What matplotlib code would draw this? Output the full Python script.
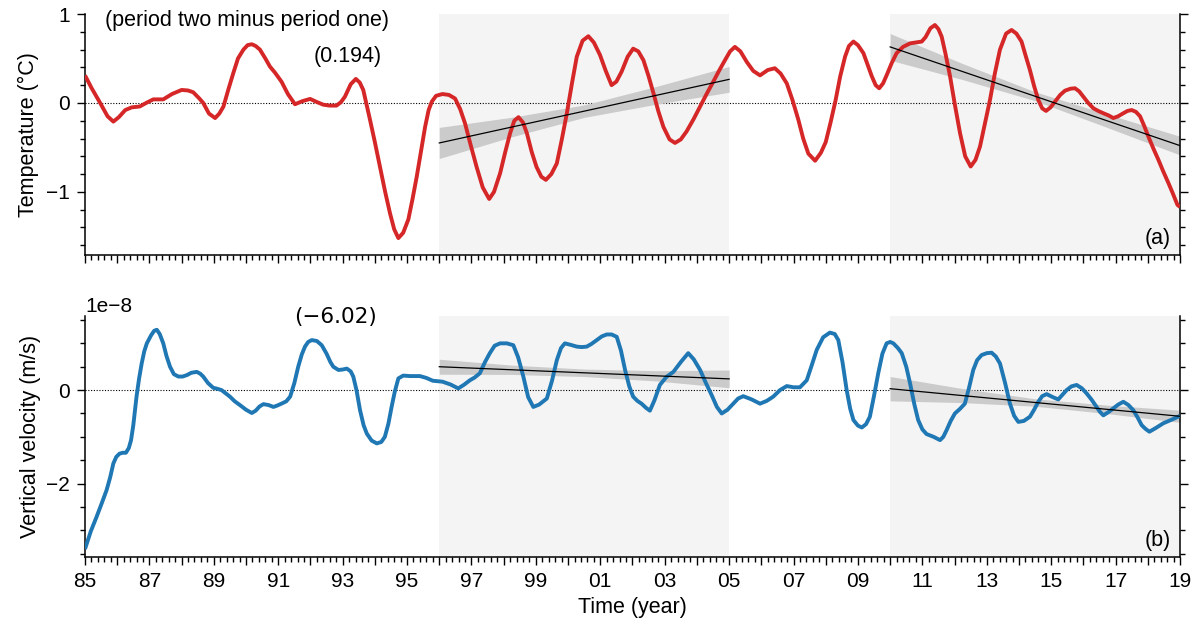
import matplotlib
matplotlib.use("Agg")
import matplotlib.pyplot as plt
from matplotlib.ticker import MultipleLocator, FuncFormatter, FixedLocator
import numpy as np

# ---------------- data ----------------
years_T = [1985.0, 1985.2, 1985.47, 1985.7, 1985.88, 1986.05, 1986.25, 1986.45, 1986.7, 1986.9,
           1987.12, 1987.43, 1987.7, 1988.0, 1988.2, 1988.36, 1988.55, 1988.67, 1988.85, 1989.04,
           1989.17, 1989.3, 1989.45, 1989.6, 1989.75, 1989.92, 1990.05, 1990.18, 1990.3, 1990.43,
           1990.6, 1990.74, 1990.9, 1991.1, 1991.3, 1991.52, 1991.75, 1991.99, 1992.2, 1992.4,
           1992.6, 1992.81, 1992.95, 1993.07, 1993.25, 1993.41, 1993.53, 1993.64, 1993.85, 1994.0,
           1994.16, 1994.32, 1994.47, 1994.6, 1994.73, 1994.88, 1995.04, 1995.17, 1995.3, 1995.43,
           1995.56, 1995.67, 1995.77, 1995.9, 1996.1, 1996.3, 1996.49, 1996.65, 1996.8, 1996.98,
           1997.16, 1997.35, 1997.55, 1997.7, 1997.89, 1998.05, 1998.2, 1998.33, 1998.46, 1998.6,
           1998.72, 1998.87, 1999.02, 1999.17, 1999.31, 1999.48, 1999.65, 1999.8, 1999.96, 2000.12,
           2000.27, 2000.45, 2000.63, 2000.8, 2000.99, 2001.17, 2001.35, 2001.5, 2001.66, 2001.85,
           2002.02, 2002.18, 2002.34, 2002.5, 2002.65, 2002.8, 2002.96, 2003.15, 2003.32, 2003.5,
           2003.68, 2003.9, 2004.1, 2004.3, 2004.51, 2004.7, 2004.87, 2005.03, 2005.18, 2005.35,
           2005.55, 2005.75, 2005.96, 2006.2, 2006.42, 2006.6, 2006.79, 2006.97, 2007.15, 2007.3,
           2007.46, 2007.67, 2007.85, 2008.0, 2008.15, 2008.3, 2008.45, 2008.6, 2008.72, 2008.86,
           2009.0, 2009.17, 2009.3, 2009.43, 2009.55, 2009.66, 2009.78, 2009.89, 2010.05, 2010.2,
           2010.4, 2010.62, 2010.8, 2010.98, 2011.1, 2011.25, 2011.39, 2011.5, 2011.6, 2011.72,
           2011.86, 2012.0, 2012.17, 2012.33, 2012.5, 2012.65, 2012.79, 2012.95, 2013.1, 2013.25,
           2013.41, 2013.6, 2013.77, 2013.92, 2014.08, 2014.2, 2014.34, 2014.47, 2014.6, 2014.72,
           2014.84, 2014.98, 2015.12, 2015.28, 2015.43, 2015.6, 2015.74, 2015.87, 2016.0, 2016.15,
           2016.31, 2016.46, 2016.62, 2016.78, 2016.93, 2017.08, 2017.24, 2017.37, 2017.5, 2017.63,
           2017.76, 2017.89, 2018.02, 2018.17, 2018.33, 2018.48, 2018.64, 2018.78, 2018.92, 2019.0]
temp = [0.31, 0.17, 0.0, -0.15, -0.21, -0.16, -0.08, -0.05, -0.04, 0.0,
        0.04, 0.04, 0.10, 0.146, 0.14, 0.12, 0.05, 0.0, -0.12, -0.17,
        -0.12, -0.04, 0.15, 0.33, 0.50, 0.60, 0.65, 0.66, 0.64, 0.60,
        0.50, 0.41, 0.34, 0.24, 0.10, -0.015, 0.02, 0.045, 0.01, -0.02,
        -0.03, -0.03, 0.01, 0.07, 0.21, 0.27, 0.23, 0.146, -0.19, -0.44,
        -0.72, -1.0, -1.24, -1.42, -1.52, -1.46, -1.31, -1.08, -0.83, -0.55,
        -0.27, -0.08, 0.015, 0.08, 0.10, 0.09, 0.05, -0.07, -0.23, -0.48,
        -0.72, -0.95, -1.08, -1.0, -0.79, -0.55, -0.34, -0.20, -0.16, -0.22,
        -0.34, -0.55, -0.72, -0.83, -0.865, -0.80, -0.68, -0.42, -0.12, 0.22,
        0.52, 0.70, 0.75, 0.68, 0.54, 0.36, 0.20, 0.24, 0.35, 0.52,
        0.61, 0.58, 0.48, 0.30, 0.11, -0.09, -0.27, -0.41, -0.45, -0.41,
        -0.32, -0.18, -0.04, 0.10, 0.24, 0.37, 0.48, 0.58, 0.63, 0.58,
        0.46, 0.36, 0.31, 0.37, 0.39, 0.33, 0.22, 0.03, -0.19, -0.40,
        -0.57, -0.65, -0.56, -0.44, -0.22, 0.02, 0.30, 0.52, 0.64, 0.69,
        0.65, 0.56, 0.43, 0.30, 0.20, 0.165, 0.22, 0.31, 0.45, 0.56,
        0.63, 0.67, 0.68, 0.69, 0.74, 0.84, 0.876, 0.83, 0.745, 0.55,
        0.30, 0.0, -0.34, -0.60, -0.715, -0.64, -0.49, -0.22, 0.034, 0.33,
        0.60, 0.78, 0.82, 0.78, 0.69, 0.54, 0.37, 0.19, 0.034, -0.06,
        -0.09, -0.05, 0.015, 0.09, 0.138, 0.16, 0.165, 0.13, 0.07, 0.0,
        -0.06, -0.09, -0.116, -0.14, -0.17, -0.15, -0.116, -0.09, -0.08, -0.10,
        -0.15, -0.26, -0.38, -0.51, -0.64, -0.77, -0.90, -1.02, -1.146, -1.17]

years_W = [1985.0, 1985.18, 1985.36, 1985.52, 1985.67, 1985.78, 1985.88, 1985.97, 1986.07, 1986.17,
           1986.27, 1986.36, 1986.43, 1986.5, 1986.6, 1986.68, 1986.76, 1986.84, 1986.92, 1987.05,
           1987.15, 1987.23, 1987.32, 1987.43, 1987.53, 1987.64, 1987.76, 1987.9, 1988.03, 1988.16,
           1988.3, 1988.47, 1988.58, 1988.67, 1988.82, 1988.98, 1989.1, 1989.24, 1989.37, 1989.5,
           1989.65, 1989.81, 1990.0, 1990.18, 1990.3, 1990.42, 1990.54, 1990.7, 1990.85, 1990.97,
           1991.1, 1991.25, 1991.37, 1991.5, 1991.62, 1991.73, 1991.83, 1991.93, 1992.04, 1992.2,
           1992.35, 1992.5, 1992.62, 1992.71, 1992.87, 1993.0, 1993.13, 1993.25, 1993.33, 1993.43,
           1993.54, 1993.65, 1993.75, 1993.9, 1994.06, 1994.2, 1994.31, 1994.42, 1994.52, 1994.62,
           1994.73, 1994.88, 1995.1, 1995.4, 1995.6, 1995.8, 1996.1, 1996.35, 1996.59, 1996.78,
           1996.95, 1997.1, 1997.26, 1997.42, 1997.57, 1997.72, 1997.89, 1998.1, 1998.3, 1998.45,
           1998.61, 1998.76, 1998.92, 1999.1, 1999.34, 1999.5, 1999.65, 1999.78, 1999.9, 2000.07,
           2000.27, 2000.42, 2000.58, 2000.73, 2000.89, 2001.05, 2001.2, 2001.35, 2001.51, 2001.64,
           2001.77, 2001.9, 2002.02, 2002.15, 2002.28, 2002.42, 2002.54, 2002.68, 2002.85, 2003.05,
           2003.27, 2003.5, 2003.73, 2003.9, 2004.1, 2004.28, 2004.46, 2004.62, 2004.77, 2004.95,
           2005.13, 2005.28, 2005.44, 2005.7, 2005.96, 2006.17, 2006.37, 2006.58, 2006.79, 2007.0,
           2007.2, 2007.41, 2007.56, 2007.72, 2007.92, 2008.13, 2008.28, 2008.39, 2008.52, 2008.65,
           2008.76, 2008.86, 2009.0, 2009.12, 2009.25, 2009.37, 2009.5, 2009.63, 2009.76, 2009.89,
           2010.0, 2010.1, 2010.24, 2010.36, 2010.5, 2010.62, 2010.75, 2010.87, 2011.0, 2011.13,
           2011.35, 2011.55, 2011.65, 2011.75, 2011.88, 2012.01, 2012.17, 2012.32, 2012.45, 2012.58,
           2012.7, 2012.84, 2013.0, 2013.15, 2013.28, 2013.41, 2013.57, 2013.72, 2013.85, 2013.98,
           2014.15, 2014.34, 2014.47, 2014.6, 2014.72, 2014.86, 2015.05, 2015.22, 2015.35, 2015.48,
           2015.63, 2015.79, 2015.95, 2016.1, 2016.25, 2016.41, 2016.52, 2016.62, 2016.78, 2016.93,
           2017.08, 2017.24, 2017.4, 2017.55, 2017.68, 2017.81, 2017.93, 2018.05, 2018.25, 2018.48,
           2018.75, 2019.0]
wvel = [-3.40, -3.02, -2.71, -2.42, -2.14, -1.87, -1.57, -1.43, -1.36, -1.34,
        -1.34, -1.24, -1.07, -0.75, -0.14, 0.25, 0.57, 0.83, 1.0, 1.17,
        1.27, 1.29, 1.2, 1.0, 0.73, 0.5, 0.34, 0.29, 0.29, 0.32,
        0.37, 0.39, 0.35, 0.29, 0.15, 0.05, 0.03, 0.0, -0.07, -0.14,
        -0.24, -0.32, -0.42, -0.49, -0.44, -0.35, -0.3, -0.32, -0.36, -0.33,
        -0.29, -0.24, -0.14, 0.15, 0.5, 0.76, 0.93, 1.03, 1.07, 1.05,
        0.96, 0.78, 0.6, 0.5, 0.43, 0.44, 0.46, 0.4, 0.29, 0.0,
        -0.43, -0.75, -0.93, -1.08, -1.14, -1.11, -1.0, -0.72, -0.36, -0.03,
        0.25, 0.31, 0.30, 0.30, 0.26, 0.2, 0.18, 0.12, 0.036, 0.12,
        0.21, 0.27, 0.36, 0.6, 0.79, 0.95, 1.0, 1.0, 0.96, 0.7,
        0.29, -0.15, -0.36, -0.31, -0.18, 0.2, 0.64, 0.9, 1.0, 0.97,
        0.93, 0.92, 0.93, 0.99, 1.07, 1.15, 1.19, 1.19, 1.14, 0.85,
        0.43, 0.08, -0.14, -0.23, -0.29, -0.38, -0.44, -0.22, 0.11, 0.28,
        0.39, 0.6, 0.79, 0.66, 0.43, 0.15, -0.11, -0.36, -0.5, -0.42,
        -0.29, -0.18, -0.13, -0.2, -0.29, -0.23, -0.14, 0.0, 0.086, 0.06,
        0.06, 0.21, 0.52, 0.86, 1.13, 1.23, 1.2, 1.07, 0.6, 0.0,
        -0.4, -0.64, -0.76, -0.8, -0.73, -0.57, -0.12, 0.36, 0.78, 1.0,
        1.03, 1.0, 0.9, 0.79, 0.5, 0.14, -0.3, -0.64, -0.84, -0.94,
        -1.0, -1.07, -1.0, -0.86, -0.66, -0.5, -0.4, -0.29, 0.05, 0.43,
        0.64, 0.75, 0.79, 0.8, 0.72, 0.57, 0.15, -0.29, -0.55, -0.68,
        -0.66, -0.57, -0.42, -0.25, -0.13, -0.086, -0.15, -0.2, -0.1, 0.0,
        0.08, 0.11, 0.04, -0.07, -0.2, -0.36, -0.47, -0.54, -0.47, -0.39,
        -0.31, -0.25, -0.32, -0.43, -0.58, -0.75, -0.83, -0.89, -0.81, -0.71,
        -0.63, -0.55]
W_SCALE = 1e-8

# periods (shaded)
period1 = (1996, 2005)
period2 = (2010, 2019)

# trend lines (value at start/end of period) and confidence half widths
trend_x1 = [1996, 1998.25, 2000.5, 2002.75, 2005]
trend_x2 = [2010, 2012.25, 2014.5, 2016.75, 2019]
T_trend1 = [-0.45, 0.265]
T_hw1 = [0.175, 0.11, 0.07, 0.10, 0.145]
T_trend2 = [0.63, -0.48]
T_hw2 = [0.15, 0.09, 0.05, 0.075, 0.105]
W_trend1 = [0.50, 0.24]
W_hw1 = [0.16, 0.10, 0.08, 0.11, 0.19]
W_trend2 = [0.03, -0.56]
W_hw2 = [0.26, 0.15, 0.08, 0.09, 0.13]

diff_T = "(0.194)"
diff_W = "(\u22126.02)"

# ---------------- style ----------------
plt.rcParams['font.family'] = ['Liberation Sans', 'DejaVu Sans']
plt.rcParams['axes.unicode_minus'] = True

RED = '#d62728'
BLUE = '#1f77b4'
SHADE = '#f4f4f4'
BAND = '#cbcbcb'

fig = plt.figure(figsize=(12, 6.24), dpi=100)
L, R = 85 / 1200, 1180 / 1200
ax1 = fig.add_axes([L, 1 - 255 / 624, R - L, (255 - 14) / 624])
ax2 = fig.add_axes([L, 1 - 557 / 624, R - L, (557 - 316) / 624])


def trend(ax, xs, ends, hw, scale=1.0):
    xs = np.asarray(xs, float)
    c = ends[0] + (ends[1] - ends[0]) * (xs - xs[0]) / (xs[-1] - xs[0])
    hw = np.asarray(hw)
    ax.fill_between(xs, (c - hw) * scale, (c + hw) * scale, color=BAND, lw=0, zorder=2)
    ax.plot([xs[0], xs[-1]], [ends[0] * scale, ends[1] * scale], color='black', lw=0.9, zorder=4)


for ax in (ax1, ax2):
    ax.axvspan(*period1, color=SHADE, lw=0, zorder=0)
    ax.axvspan(*period2, color=SHADE, lw=0, zorder=0)
    ax.axhline(0, color='black', lw=0.8, ls=(0, (1, 1.5)), zorder=1)
    ax.set_xlim(1985, 2019)
    ax.spines['top'].set_visible(False)
    for s in ('left', 'right', 'bottom'):
        ax.spines[s].set_linewidth(1.1)
    ax.xaxis.set_major_locator(FixedLocator(list(range(1985, 2020))))
    ax.xaxis.set_minor_locator(MultipleLocator(0.2))
    ax.tick_params(which='both', direction='out', right=True, top=False, width=1.0)
    ax.tick_params(which='major', length=6, labelsize=15, pad=5)
    ax.tick_params(which='minor', length=3.5)

# top panel
ax1.plot(years_T, temp, color=RED, lw=2.8, zorder=3,
         solid_capstyle='butt', solid_joinstyle='round')
trend(ax1, trend_x1, T_trend1, T_hw1)
trend(ax1, trend_x2, T_trend2, T_hw2)
ax1.set_ylim(-1.71, 1.0)
ax1.yaxis.set_major_locator(MultipleLocator(1))
ax1.yaxis.set_minor_locator(MultipleLocator(0.2))
ax1.set_xticklabels([])
ax1.set_ylabel('Temperature (°C)', fontsize=15.5)
ax1.yaxis.set_label_coords(-0.042, 0.5)
ax1.text(0.018, 0.975, '(period two minus period one)', transform=ax1.transAxes,
         ha='left', va='center', fontsize=15.5)
ax1.text(0.240, 0.822, diff_T, transform=ax1.transAxes, ha='center', va='center', fontsize=15.5)
ax1.text(0.992, 0.07, '(a)', transform=ax1.transAxes, ha='right', va='center', fontsize=15.5)

# bottom panel
ax2.plot(years_W, np.asarray(wvel) * W_SCALE, color=BLUE, lw=2.8, zorder=3,
         solid_capstyle='butt', solid_joinstyle='round')
trend(ax2, trend_x1, W_trend1, W_hw1, W_SCALE)
trend(ax2, trend_x2, W_trend2, W_hw2, W_SCALE)
ax2.set_ylim(-3.57e-8, 1.585e-8)
ax2.yaxis.set_major_locator(MultipleLocator(2e-8))
ax2.yaxis.set_minor_locator(MultipleLocator(0.5e-8))
ax2.yaxis.get_offset_text().set_fontsize(15)
ax2.xaxis.set_major_formatter(FuncFormatter(
    lambda v, p: f"{int(round(v)) % 100:02d}" if int(round(v)) % 2 == 1 else ""))
ax2.set_ylabel('Vertical velocity (m/s)', fontsize=15.5)
ax2.yaxis.set_label_coords(-0.040, 0.5)
ax2.set_xlabel('Time (year)', fontsize=15.5)
ax2.xaxis.set_label_coords(0.5, -0.165)
ax2.text(0.229, 0.996, diff_W, transform=ax2.transAxes, ha='center', va='center',
         fontsize=15.5, family=['DejaVu Sans'])
ax2.text(0.992, 0.07, '(b)', transform=ax2.transAxes, ha='right', va='center', fontsize=15.5)

fig.savefig('out.png', dpi=100)
